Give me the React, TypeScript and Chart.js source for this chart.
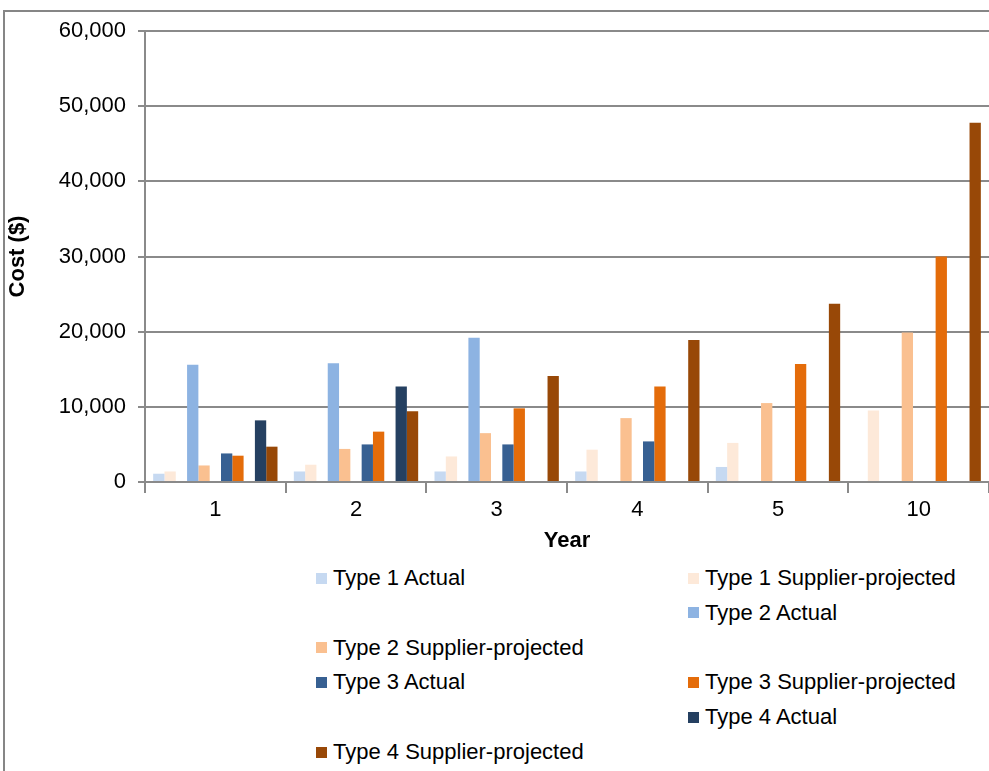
import React, { useEffect, useRef } from "react";
import { Chart, registerables } from "chart.js";

Chart.register(...registerables);

const categories = ["1", "2", "3", "4", "5", "10"];

const type1Actual = [1100, 1400, 1400, 1400, 2000, null];
const type1Projected = [1400, 2300, 3400, 4300, 5200, 9500];
const type2Actual = [15600, 15800, 19200, null, null, null];
const type2Projected = [2200, 4400, 6500, 8500, 10500, 19900];
const type3Actual = [3800, 5000, 5000, 5400, null, null];
const type3Projected = [3500, 6700, 9800, 12700, 15700, 30000];
const type4Actual = [8200, 12700, null, null, null, null];
const type4Projected = [4700, 9400, 14100, 18900, 23700, 47800];

const spacer = [null, null, null, null, null, null];

const series = [
  { label: "Type 1 Actual", data: type1Actual, color: "#C6D9F1" },
  { label: "Type 1 Supplier-projected", data: type1Projected, color: "#FDE9D9" },
  { label: "", data: spacer, color: "rgba(0,0,0,0)" },
  { label: "Type 2 Actual", data: type2Actual, color: "#8DB3E2" },
  { label: "Type 2 Supplier-projected", data: type2Projected, color: "#FAC090" },
  { label: "", data: spacer, color: "rgba(0,0,0,0)" },
  { label: "Type 3 Actual", data: type3Actual, color: "#376092" },
  { label: "Type 3 Supplier-projected", data: type3Projected, color: "#E46C0A" },
  { label: "", data: spacer, color: "rgba(0,0,0,0)" },
  { label: "Type 4 Actual", data: type4Actual, color: "#254061" },
  { label: "Type 4 Supplier-projected", data: type4Projected, color: "#984807" },
];

const yMax = 60000;
const yStep = 10000;

const FONT = "'Liberation Sans', Arial, sans-serif";

export default function App() {
  const canvasRef = useRef<HTMLCanvasElement | null>(null);

  useEffect(() => {
    if (!canvasRef.current) return;
    const chart = new Chart(canvasRef.current, {
      type: "bar",
      data: {
        labels: categories,
        datasets: series.map((s) => ({
          label: s.label,
          data: s.data,
          backgroundColor: s.color,
          borderWidth: 0,
          categoryPercentage: 0.884,
          barPercentage: 1.0,
        })),
      },
      options: {
        animation: false,
        responsive: false,
        maintainAspectRatio: false,
        layout: { padding: { top: 31, right: 0, left: 0, bottom: 0 } },
        plugins: {
          legend: { display: false },
          tooltip: { enabled: false },
        },
        scales: {
          x: {
            afterFit: (scale: any) => {
              scale.height = 78;
            },
            grid: {
              offset: true,
              drawOnChartArea: false,
              drawTicks: true,
              tickLength: 11,
              color: "#8a8a8a",
              lineWidth: 2,
            },
            border: { display: true, color: "#8a8a8a", width: 2 },
            ticks: {
              color: "#000",
              padding: 4,
              font: { family: FONT, size: 22 },
            },
            title: {
              display: true,
              text: "Year",
              color: "#000",
              padding: { top: 2, bottom: 6 },
              font: { family: FONT, size: 22, weight: "bold" },
            },
          },
          y: {
            min: 0,
            max: yMax,
            afterFit: (scale: any) => {
              scale.width = 145;
            },
            grid: {
              color: "#8a8a8a",
              lineWidth: 2,
              tickLength: 7,
              drawTicks: true,
            },
            border: { display: true, color: "#8a8a8a", width: 2 },
            ticks: {
              stepSize: yStep,
              color: "#000",
              padding: 12,
              font: { family: FONT, size: 22 },
              callback: (v: any) => Number(v).toLocaleString("en-US"),
            },
            title: {
              display: true,
              text: "Cost ($)",
              color: "#000",
              padding: { top: 5, bottom: 0 },
              font: { family: FONT, size: 22, weight: "bold" },
            },
          },
        },
      },
    });
    return () => chart.destroy();
  }, []);

  const rows: any[] = [];
  series.forEach((s, i) => {
    const row = Math.floor(i / 2);
    const col = i % 2;
    if (!s.label) return;
    rows.push(
      <div
        key={i}
        style={{
          position: "absolute",
          left: col === 0 ? 316 : 688,
          top: 566 + row * 34.8,
          height: 24,
          display: "flex",
          alignItems: "center",
          whiteSpace: "nowrap",
          fontFamily: FONT,
          fontSize: 22,
          color: "#000",
        }}
      >
        <span
          style={{
            display: "inline-block",
            width: 11,
            height: 11,
            background: s.color,
            marginRight: 6,
          }}
        />
        <span>{s.label}</span>
      </div>
    );
  });

  return (
    <div
      style={{
        position: "fixed",
        left: 0,
        top: 0,
        width: 989,
        height: 771,
        background: "#fff",
        overflow: "hidden",
      }}
    >
      <div
        style={{
          position: "absolute",
          left: 3,
          top: 10,
          width: 1000,
          height: 800,
          borderLeft: "2px solid #868686",
          borderTop: "2px solid #868686",
        }}
      />
      <canvas
        ref={canvasRef}
        width={989}
        height={560}
        style={{ position: "absolute", left: 0, top: 0, width: 989, height: 560 }}
      />
      {rows}
    </div>
  );
}
